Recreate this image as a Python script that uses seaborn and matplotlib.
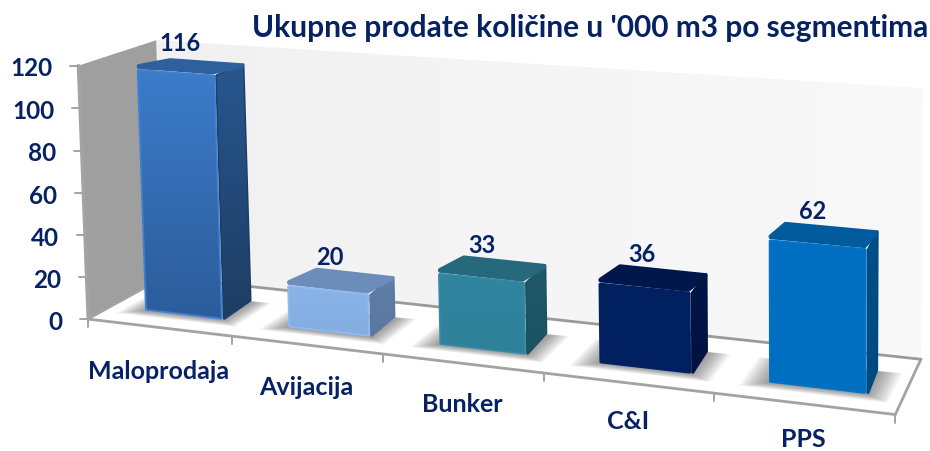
import numpy as np
import pandas as pd
import matplotlib
matplotlib.use("Agg")
import matplotlib.pyplot as plt
import matplotlib.colors as mcolors
from matplotlib.patches import Polygon
from matplotlib.transforms import Transform, Affine2D, IdentityTransform, TransformedPatchPath
import seaborn as sns

# ---------- data ----------
categories = ["Maloprodaja", "Avijacija", "Bunker", "C&I", "PPS"]
values = [116, 20, 33, 36, 62]
y_ticks = [0, 20, 40, 60, 80, 100, 120]
title = "Ukupne prodate količine u '000 m3 po segmentima"

# ---------- styles ----------
front_top = ["#3c7ccb", "#8ab3e8", "#30859f", "#002060", "#0070c2"]
front_bottom = ["#2c5c9a", "#84ade2", "#2f8199", "#00205f", "#006fc0"]
side_top = ["#27568e", "#5f7ea8", "#1f5a6b", "#001549", "#004f88"]
side_bottom = ["#1e3d63", "#5a789f", "#1c5260", "#00123f", "#004a80"]
top_color = ["#2d609c", "#6c8dba", "#26687c", "#00174c", "#005a9b"]
text_color = "#062265"
line_gray = "#a3a3a3"
x_label_drop = [43, 42, 40, 38, 35]

W, H = 930, 452
BAR_W, Z0, Z1 = 0.55, 0.28, 0.69
BAR_SHIFT = 0.525

# Perspective camera of the chart box: (slot, value, depth) -> picture pixels
anchors = [
    (0, 0, 0, 92, 319), (1, 0, 0, 233, 337), (2, 0, 0, 383, 355),
    (3, 0, 0, 543, 374), (4, 0, 0, 714, 396), (5, 0, 0, 895, 416),
    (0, 60, 0, 83, 195), (0, 120, 0, 75, 65),
    (0, 0, 1, 160, 279), (5, 0, 1, 922, 358),
    (0, 120, 1, 160, 42), (5, 120, 1, 922, 90),
]
rows, rhs = [], []
for X, Y, Z, u, v in anchors:
    Y = Y / 120
    rows.append([X, Y, Z, 1, 0, 0, 0, 0, -u * X, -u * Y, -u * Z]); rhs.append(u)
    rows.append([0, 0, 0, 0, X, Y, Z, 1, -v * X, -v * Y, -v * Z]); rhs.append(v)
cam = np.append(np.linalg.lstsq(np.array(rows, float), np.array(rhs, float), rcond=None)[0], 1).reshape(3, 4)


def project(x, y, z):
    x, y = np.asarray(x, float), np.asarray(y, float) / 120
    z = np.broadcast_to(z, x.shape)
    p = np.stack([x, y, z, np.ones_like(x)], axis=-1) @ cam.T
    return p[..., :2] / p[..., 2:]


class Persp(Transform):
    """Maps the seaborn axes' data (category position, value) on to the picture."""
    input_dims = output_dims = 2

    def __init__(self, z, shift=0.5):
        super().__init__()
        self.z, self.shift = z, shift

    def transform_non_affine(self, xy):
        xy = np.asarray(xy, float)
        uv = project(xy[:, 0] + self.shift, xy[:, 1], self.z)
        return np.column_stack([uv[:, 0], H - uv[:, 1]])


pixel = Affine2D().scale(1, -1).translate(0, H)

sns.set_theme(style="white")
plt.rcParams["font.family"] = ["Lato", "DejaVu Sans"]
fig = plt.figure(figsize=(W / 100, H / 100), dpi=100, facecolor="white")
ax = fig.add_axes([0, 0, 1, 1])
df = pd.DataFrame({"segment": categories, "value": values})
sns.barplot(data=df, x="segment", y="value", hue="segment", palette=front_bottom,
            width=BAR_W, saturation=1, legend=False, ax=ax, zorder=5)
ax.set_xlim(-0.5, 4.5)
ax.set_ylim(0, 120)
ax.set_xlabel("")
ax.set_ylabel("")
ax.set_frame_on(False)
ax.patch.set_alpha(0)
ax.set_yticks(y_ticks)
ax.tick_params(length=0)
ax.grid(False)


def face(pts, z, **kw):
    poly = Polygon(pts, closed=True, transform=pixel, zorder=z, clip_on=False, **kw)
    ax.add_patch(poly)
    return poly


def rounded(pts, z, color, r):
    """Polygon pulled in by r pixels with a round-joined edge, so its corners look soft."""
    pts = np.asarray(pts)
    c = pts.mean(axis=0)
    inner = pts - np.sign(pts - c) * r
    return face(inner, z, facecolor=color, edgecolor=color, lw=2 * r * 0.72, joinstyle="round")


def gradient(clip, box, c_a, c_b, z, horizontal=False):
    a, b = np.array(mcolors.to_rgb(c_a)), np.array(mcolors.to_rgb(c_b))
    t = np.linspace(0, 1, 64)[:, None]
    arr = (a + (b - a) * t)[None, :, :] if horizontal else (a + (b - a) * t)[:, None, :]
    umin, umax, vmin, vmax = box
    im = ax.imshow(arr, extent=(umin, umax, H - vmax, H - vmin), origin="upper", aspect="auto",
                   transform=IdentityTransform(), zorder=z, interpolation="bilinear")
    im.set_clip_path(clip)
    return im


def bbox(pts):
    pts = np.asarray(pts)
    return pts[:, 0].min(), pts[:, 0].max(), pts[:, 1].min(), pts[:, 1].max()


def corners(xs, ys, zs):
    return np.array([project(np.array(x, float), np.array(y, float), z) for x, y, z in zip(xs, ys, zs)])


# walls and floor
back = corners([0, 5, 5, 0], [0, 0, 120, 120], [1, 1, 1, 1])
wall = face(back, 1, facecolor="#f3f3f3", edgecolor="none")
gradient(wall, bbox(back), "#f1f1f1", "#f9f9f9", 1.1, horizontal=True)
left = corners([0, 0, 0, 0], [0, 0, 120, 120], [0, 1, 1, 0])
face(left, 2, facecolor="#9f9f9f", edgecolor="none")
floor = corners([0, 5, 5, 0], [0, 0, 0, 0], [0, 0, 1, 1])
face(floor, 2, facecolor="white", edgecolor="none")


def edge(p, q, lw=2.0, color=line_gray):
    ax.plot([p[0], q[0]], [p[1], q[1]], transform=pixel, color=color, lw=lw,
            solid_capstyle="round", zorder=3, clip_on=False)


edge(floor[0], floor[1])
edge(floor[1], floor[2])
edge(floor[2], floor[3], color="#9a9a9a")
edge(left[0], left[1], lw=1.5)
edge(left[0], left[3], lw=2.5)
for t in y_ticks:
    p = project(0.0, float(t), 0.0)
    edge(p - [8, 0], p, lw=1.4)
for i in range(len(categories) + 1):
    p = project(float(i), 0.0, 0.0)
    edge(p, p + [0, 8], lw=1.4)

# bars: front faces are seaborn's own rectangles, redrawn through the camera
front_tf = Persp(Z0, BAR_SHIFT)
for i, (bar, v) in enumerate(zip(ax.patches, values)):
    x0 = bar.get_x() + BAR_SHIFT
    x1 = x0 + bar.get_width()
    base = 10 + i * 2
    # soft contact shadow on the floor
    for e in np.linspace(0.15, 0.01, 15):
        foot = corners([x0 - e * 1.0, x1 + e * 0.9, x1 + e * 0.9, x0 - e * 1.0], [0, 0, 0, 0],
                       [Z0 - e * 0.7, Z0 - e * 0.7, Z1 + e * 0.1, Z1 + e * 0.1])
        face(foot, base - 5, facecolor="#383838", edgecolor="none", alpha=0.04)
    # side and top faces
    side = corners([x1, x1, x1, x1], [0, 0, v, v], [Z0, Z1, Z1, Z0])
    sp = rounded(side, base, side_bottom[i], 1.5)
    gradient(sp, bbox(side), side_top[i], side_bottom[i], base + 0.1)
    top = corners([x0, x1, x1, x0], [v, v, v, v], [Z0, Z0, Z1, Z1])
    rounded(top, base + 0.2, top_color[i], 2.5)
    # front face, pulled in by 2 px so that a wide round-joined edge softens its corners
    fpts = corners([x0, x1, x1, x0], [0, 0, v, v], [Z0] * 4)
    umin, umax, vmin, vmax = bbox(fpts)
    cu, cv = (umin + umax) / 2, H - (vmin + vmax) / 2
    inset = (Affine2D().translate(-cu, -cv)
             .scale(1 - 4 / (umax - umin), 1 - 4 / (vmax - vmin)).translate(cu, cv))
    bar.set_transform(front_tf + inset)
    bar.set_clip_on(False)
    bar.set_zorder(base + 0.3)
    bar.set_edgecolor(mcolors.to_hex(np.clip(np.array(mcolors.to_rgb(front_top[i])) * 1.04, 0, 1)))
    bar.set_linewidth(2.6)
    bar.set_joinstyle("round")
    gradient(TransformedPatchPath(bar), bbox(fpts), front_top[i], front_bottom[i], base + 0.4)
    # value label above the top face
    c = project((x0 + x1) / 2, float(v), (Z0 + Z1) / 2)
    ax.text(c[0] - 11, c[1] - 24, str(v), transform=pixel, ha="center", va="center",
            fontsize=17, fontweight="bold", color=text_color, zorder=40, clip_on=False)

# real tick labels, carried through the camera
ax.set_xticks(range(len(categories)))
ax.set_xticklabels(categories)
for tick, drop in zip(ax.xaxis.get_major_ticks(), x_label_drop):
    lab = tick.label1
    lab.set_transform(Persp(0) + Affine2D().translate(0, -drop))
    lab.set_y(0)
    lab.set_ha("center")
    lab.set_va("center")
    lab.set_fontsize(18)
    lab.set_fontweight("bold")
    lab.set_color(text_color)
    lab.set_clip_on(False)
for tick in ax.yaxis.get_major_ticks():
    lab = tick.label1
    lab.set_transform(Persp(0) + Affine2D().translate(-26, -2))
    lab.set_x(-0.5)
    lab.set_ha("right")
    lab.set_va("center")
    lab.set_fontsize(17.5)
    lab.set_fontweight("bold")
    lab.set_color(text_color)

ax.set_title(title, loc="right", x=928 / W, y=1 - 37 / H, pad=0, va="baseline",
             fontsize=21.5, fontweight="bold", color=text_color, zorder=50)

fig.savefig("out.png", dpi=100)
